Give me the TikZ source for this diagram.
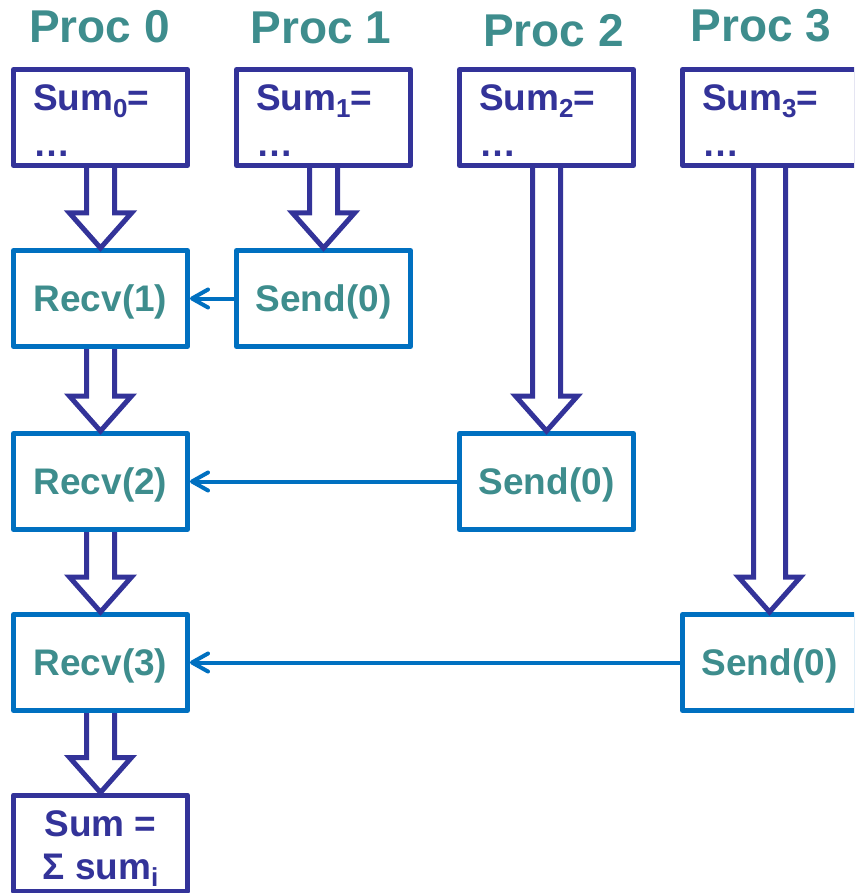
\documentclass[tikz,border=0pt]{standalone}
\usepackage{fontspec}
\setmainfont{Liberation Sans}
\usetikzlibrary{arrows.meta,calc}

\definecolor{procnavy}{RGB}{51,51,153}
\definecolor{msgblue}{RGB}{0,112,192}
\definecolor{procteal}{RGB}{62,141,141}

% lowered index digit/letter
\newcommand\idx[1]{\raisebox{-7pt}{\fontsize{26}{26}\selectfont #1}}
% invisible strut that pushes the first line down a little
\newcommand\topstrut[1]{\rule{0pt}{#1}}

% hollow block arrow from the bottom of one box to the top of another
% #1 = half width of the shaft
\newcommand\blockarrow[3][14]{%
  \draw[flow] let \p1=(#2.south), \p2=(#3.north) in
    (\x1-#1pt,\y1) -- (\x1-#1pt,\y2+35pt) -- (\x1-31pt,\y2+35pt) -- (\x1,\y2)
    -- (\x1+31pt,\y2+35pt) -- (\x1+#1pt,\y2+35pt) -- (\x1+#1pt,\y1);}

\begin{document}
\begin{tikzpicture}[x=1pt,y=-1pt,
  title/.style={font=\bfseries\fontsize{46}{46}\selectfont, text=procteal,
    anchor=base, inner sep=0pt},
  sumbox/.style={draw=procnavy, line width=5pt, line join=round,
    minimum width=174pt, minimum height=96pt, inner xsep=19.5pt, inner ysep=0pt,
    text width=135pt, align=left, text=procnavy,
    font=\bfseries\fontsize{37}{46}\selectfont},
  totalbox/.style={draw=procnavy, line width=5pt, line join=round,
    minimum width=174pt, minimum height=96pt, inner sep=0pt,
    align=center, text=procnavy, font=\bfseries\fontsize{37}{43}\selectfont},
  opbox/.style={draw=msgblue, line width=5pt, line join=round,
    minimum width=174pt, minimum height=96pt, inner sep=0pt,
    text height=31pt, text depth=5pt,
    text=procteal, font=\bfseries\fontsize{37}{37}\selectfont},
  msg/.style={draw=msgblue, line width=4pt,
    -{Straight Barb[length=16pt, width=18pt, round]}},
  flow/.style={draw=procnavy, line width=5pt, line join=miter}
]
\useasboundingbox (0,0) rectangle (854,893);
\clip (0,0) rectangle (854,893);

% process titles
\node[title] (t0) at (99.5,43) {Proc 0};
\node[title] (t1) at (321,44) {Proc 1};
\node[title] (t2) at (553.5,47) {Proc 2};
\node[title] (t3) at (761,42) {Proc 3};

% local partial sums
\node[sumbox] (s0) at (100.5,117.5) {\topstrut{33pt}Sum\idx{0}=\\…};
\node[sumbox] (s1) at (323.5,117.5) {\topstrut{33pt}Sum\idx{1}=\\…};
\node[sumbox] (s2) at (546.5,117.5) {\topstrut{33pt}Sum\idx{2}=\\…};
\node[sumbox] (s3) at (769.5,117.5) {\topstrut{33pt}Sum\idx{3}=\\…};

% receives on process 0
\node[opbox] (r1) at (100.5,298.5) {Recv(1)};
\node[opbox] (r2) at (100.5,481.5) {Recv(2)};
\node[opbox] (r3) at (100.5,662.5) {Recv(3)};

% sends to process 0
\node[opbox] (d1) at (323.5,298.5) {Send(0)};
\node[opbox] (d2) at (546.5,481.5) {Send(0)};
\node[opbox] (d3) at (769.5,662.5) {Send(0)};

% final result
\node[totalbox] (tot) at (100.5,843) {\topstrut{36pt}Sum =\\Σ sum\idx{i}};

% control flow
\blockarrow{s0}{r1}
\blockarrow{r1}{r2}
\blockarrow{r2}{r3}
\blockarrow{r3}{tot}
\blockarrow{s1}{d1}
\blockarrow{s2}{d2}
\blockarrow[16]{s3}{d3}

% messages
\draw[msg] (d1.west) -- (r1.east);
\draw[msg] (d2.west) -- (r2.east);
\draw[msg] (d3.west) -- (r3.east);
\end{tikzpicture}
\end{document}
